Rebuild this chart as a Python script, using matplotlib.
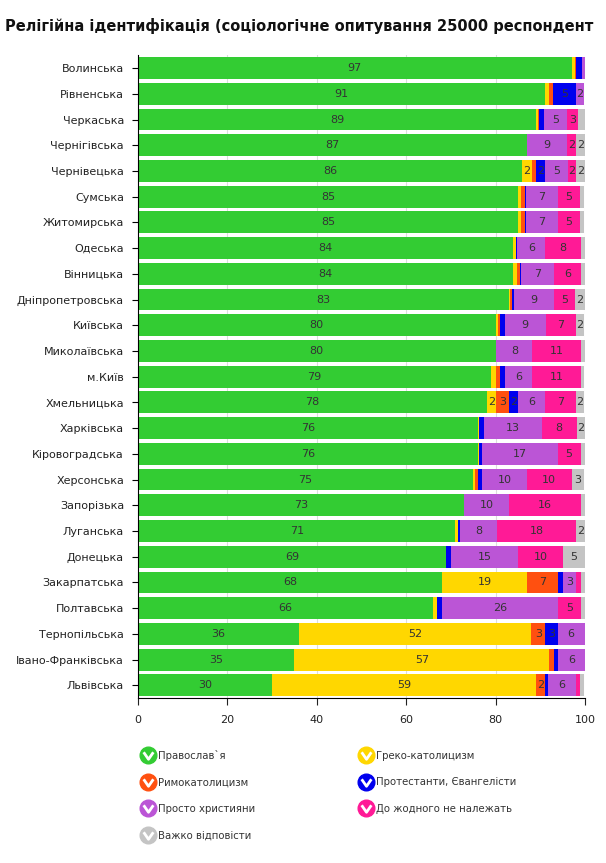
import numpy as np
import matplotlib.pyplot as plt
from matplotlib.lines import Line2D
from matplotlib.path import Path
from matplotlib.legend_handler import HandlerTuple

regions = ['Волинська', 'Рівненська', 'Черкаська', 'Чернігівська', 'Чернівецька',
           'Сумська', 'Житомирська', 'Одеська', 'Вінницька', 'Дніпропетровська',
           'Київська', 'Миколаївська', 'м.Київ', 'Хмельницька', 'Харківська',
           'Кіровоградська', 'Херсонська', 'Запорізька', 'Луганська', 'Донецька',
           'Закарпатська', 'Полтавська', 'Тернопільська', 'Івано-Франківська', 'Львівська']

orthodox = [97, 91, 89, 87, 86, 85, 85, 84, 84, 83, 80, 80, 79, 78, 76, 76, 75, 73, 71, 69, 68, 66, 36, 35, 30]
greek_cath = [0.7, 1.0, 0.4, 0, 2.1, 0.6, 0.6, 0.5, 0.7, 0.2, 0.5, 0.2, 1.1, 2.2, 0.2, 0.4, 0.5, 0, 0.6, 0, 19, 0.9, 52, 57, 59]
roman_cath = [0.4, 0.9, 0.4, 0, 1.0, 0.9, 0.9, 0, 0.7, 0.5, 0.5, 0, 0.9, 2.8, 0.2, 0, 0.6, 0, 0, 0, 6.9, 0, 3.1, 1.1, 2.0]
protestant = [1.3, 5.0, 1.1, 0, 2.0, 0.4, 0.4, 0.4, 0.4, 0.35, 1.0, 0, 1.1, 2.1, 0.9, 0.5, 0.9, 0, 0.5, 1.1, 1.1, 1.1, 2.8, 0.9, 0.8]
just_christian = [0.6, 1.8, 5.0, 9.0, 5.0, 7.0, 7.0, 6.2, 7.3, 9.1, 9.2, 8.0, 6.0, 6.0, 13, 17, 10, 10, 8.2, 15, 3.0, 26, 6.0, 6.0, 6.1]
none_rel = [0, 0, 2.6, 2.0, 2.0, 5.0, 5.0, 8.0, 5.9, 4.7, 6.7, 11, 11, 6.9, 7.9, 5.1, 10, 16, 17.7, 10, 1.0, 5.1, 0, 0, 1.0]
hard_to_say = [0, 0, 1.4, 2.0, 2.0, 0.9, 0.9, 0.8, 0.9, 2.1, 1.8, 0.7, 0.7, 1.8, 1.8, 0.9, 2.8, 0.9, 2.0, 4.8, 0.9, 0.9, 0, 0, 0.9]

series = [orthodox, greek_cath, roman_cath, protestant, just_christian, none_rel, hard_to_say]
names = ['Православ`я', 'Греко-католицизм', 'Римокатолицизм', 'Протестанти, Євангелісти',
         'Просто християни', 'До жодного не належать', 'Важко відповісти']
colors = ['#33cc33', '#ffd700', '#ff5010', '#0000ee', '#bb55d6', '#ff1a96', '#c4c4c4']

# the title is cut off at the right edge in the original picture
title = 'Релігійна ідентифікація (соціологічне опитування 25000 респондент'

plt.rcParams['font.family'] = ['DejaVu Sans']
fig = plt.figure(figsize=(6.06, 8.63), dpi=100)
ax = fig.add_axes([0.2277, 0.191, 0.7376, 0.745])

y = np.arange(len(regions))
left = np.zeros(len(regions))
for vals, col in zip(series, colors):
    vals = np.array(vals, dtype=float)
    ax.barh(y, vals, left=left, height=0.85, color=col, zorder=2)
    for yi, (l, v) in enumerate(zip(left, vals)):
        if v >= 1.5:
            ax.text(l + v / 2, yi, str(int(round(v))), ha='center', va='center',
                    fontsize=8, color='#333333', zorder=3)
    left += vals

ax.set_yticks(y)
ax.set_yticklabels(regions, fontsize=8, color='#222222')
ax.set_ylim(len(regions) - 0.5, -0.5)
ax.set_xlim(0, 100)
ax.set_xticks([0, 20, 40, 60, 80, 100])
ax.tick_params(axis='x', labelsize=8, length=5, pad=7, colors='#222222')
ax.tick_params(axis='y', length=4, pad=6)
ax.xaxis.grid(True, color='#dddddd', linewidth=0.8, zorder=0)
ax.set_axisbelow(True)
for s in ['top', 'right']:
    ax.spines[s].set_visible(False)

fig.text(0.008, 0.970, title, fontsize=10.5, fontweight='bold',
         va='center', ha='left', color='#111111')

# round legend badges with a white "V" check inside
check = Path([(-0.45, 0.3), (0.0, -0.35), (0.45, 0.3)],
             [Path.MOVETO, Path.LINETO, Path.LINETO])
handles = []
for col in colors:
    circ = Line2D([], [], marker='o', markersize=12, color=col, linestyle='none')
    tick = Line2D([], [], marker=check, markersize=7, markerfacecolor='none',
                  markeredgecolor='white', markeredgewidth=2, linestyle='none')
    handles.append((circ, tick))
order = [0, 2, 4, 6, 1, 3, 5]
leg = fig.legend([handles[i] for i in order], [names[i] for i in order],
                 handler_map={tuple: HandlerTuple(ndivide=1)},
                 loc='upper left', bbox_to_anchor=(0.221, 0.142), ncol=2,
                 frameon=False, fontsize=7.3, handlelength=1.0, handletextpad=0.5,
                 labelspacing=1.65, columnspacing=10.4)
for t in leg.get_texts():
    t.set_color('#333333')

plt.savefig('out.png', dpi=100)
